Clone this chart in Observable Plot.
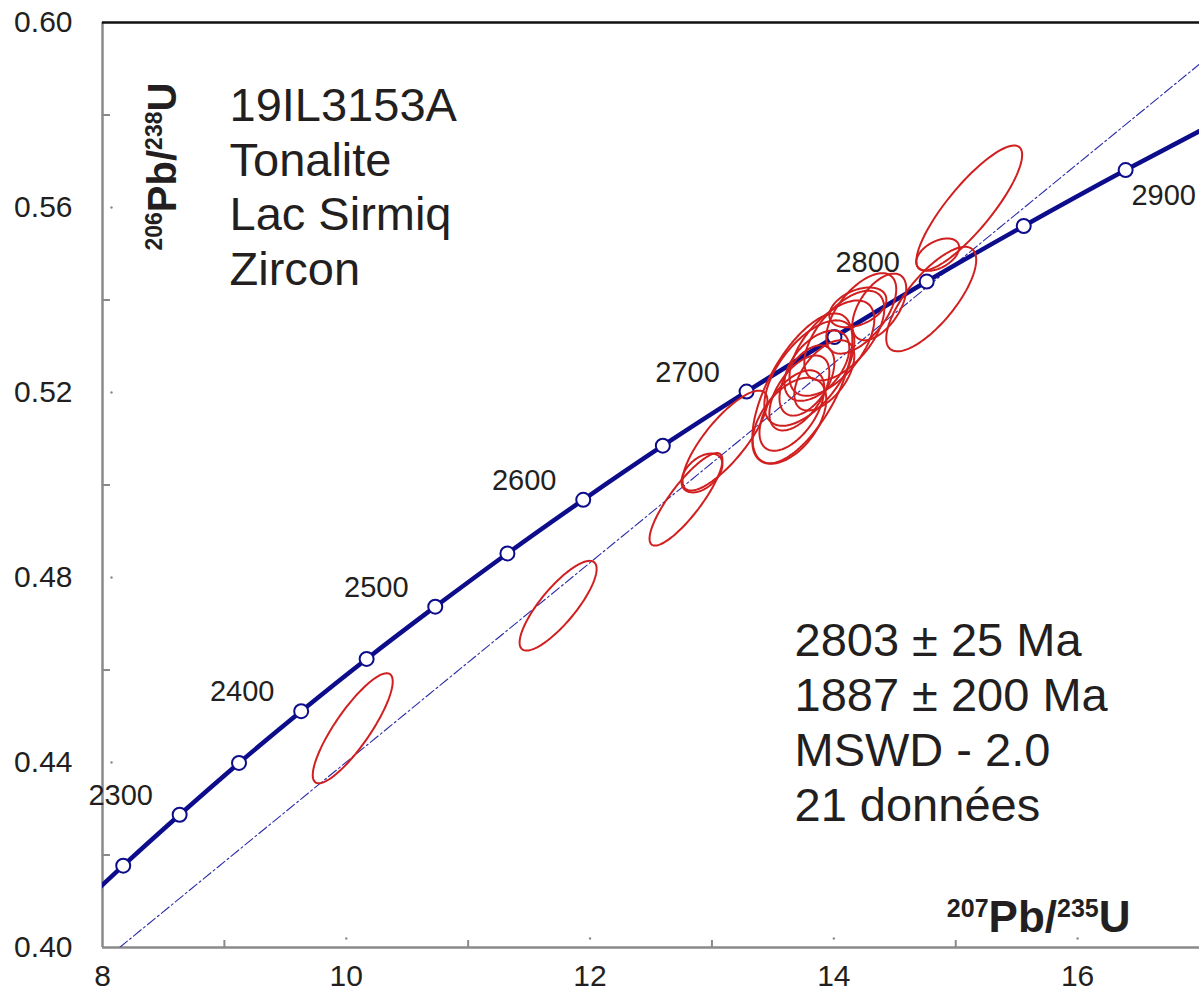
<!DOCTYPE html>
<html><head><meta charset="utf-8">
<script src="https://cdn.jsdelivr.net/npm/d3@7"></script>
<script src="https://cdn.jsdelivr.net/npm/@observablehq/plot@0.6"></script>
<style>html,body{margin:0;padding:0;background:#fff}</style>
</head><body><div id="chart"></div>
<script>
// Concordia markers (age in Ma, 207Pb/235U, 206Pb/238U)
const concordiaAge = [2200, 2250, 2300, 2350, 2400, 2450, 2500, 2550, 2600, 2650, 2700, 2750, 2800, 2850, 2900, 2950];
const concordiaX = [7.729, 8.170, 8.633, 9.120, 9.630, 10.167, 10.730, 11.322, 11.944, 12.597, 13.284, 14.005, 14.762, 15.558, 16.394, 17.272];
const concordiaY = [0.4068, 0.4177, 0.4287, 0.4399, 0.4511, 0.4624, 0.4737, 0.4852, 0.4968, 0.5085, 0.5202, 0.5320, 0.5440, 0.5560, 0.5681, 0.5803];
const labeledAges = [2300, 2400, 2500, 2600, 2700, 2800];
const rightLabeledAges = [2900];

// Discordia line (read where it meets the frame)
const discordiaX = [8.14, 17.0];
const discordiaY = [0.400, 0.591];

// Error ellipses: centre, half-extent in x and y, correlation
const ellipseCX  = [10.053, 11.738, 12.787, 12.918, 13.107, 13.742, 13.635, 13.799, 13.779, 13.984, 13.717, 13.861, 13.922, 14.086, 13.656, 14.225, 14.197, 14.799, 14.852, 15.111, 14.373];
const ellipseCY  = [0.4474, 0.4739, 0.4969, 0.5026, 0.5096, 0.5209, 0.5139, 0.5242, 0.5226, 0.5296, 0.5199, 0.5258, 0.5237, 0.5323, 0.5161, 0.5371, 0.5384, 0.5402, 0.5498, 0.5599, 0.5385];
const ellipseAX  = [0.328, 0.316, 0.299, 0.168, 0.348, 0.410, 0.303, 0.369, 0.225, 0.348, 0.246, 0.266, 0.246, 0.328, 0.266, 0.287, 0.234, 0.369, 0.176, 0.434, 0.221];
const ellipseAY  = [0.0119, 0.0097, 0.0100, 0.0042, 0.0108, 0.0162, 0.0093, 0.0114, 0.0076, 0.0103, 0.0081, 0.0076, 0.0076, 0.0097, 0.0087, 0.0087, 0.0043, 0.0113, 0.0035, 0.0135, 0.0072];
const ellipseRho = [0.85, 0.82, 0.85, 0.45, 0.80, 0.65, 0.50, 0.60, 0.50, 0.60, 0.55, 0.50, 0.55, 0.60, 0.55, 0.60, 0.40, 0.75, 0.45, 0.85, 0.55];

// Axes
const xTickValues = [8, 10, 12, 14, 16];
const xMinorTicks = [9, 11, 13, 15];
const xDotTicks = [10, 12, 14, 16];
const yTickValues = [0.40, 0.44, 0.48, 0.52, 0.56, 0.60];
const yMinorTicks = [0.42, 0.46, 0.50, 0.54, 0.58];
const yDotTicks = [0.44, 0.48, 0.52, 0.56];

// Texts
const sampleLines = ["19IL3153A", "Tonalite", "Lac Sirmiq", "Zircon"];
const resultLines = ["2803 ± 25 Ma", "1887 ± 200 Ma", "MSWD - 2.0", "21 données"];
const xTitleParts = ["207", "Pb/", "235", "U"];
const yTitleParts = ["206", "Pb/", "238", "U"];

const W = 1199, H = 1002, ML = 102, MR = 0, MT = 22, MB = 55;
const frameW = W - ML - MR, frameH = H - MT - MB;
const navy = "#0d0d8c", red = "#d11f1f", ink = "#231f20", axisGray = "#8a8a8a";

const concordia = concordiaAge.map((a, i) => ({age: a, x: concordiaX[i], y: concordiaY[i]}));
const discordia = discordiaX.map((x, i) => ({x, y: discordiaY[i]}));
const ellipsePoints = [];
ellipseCX.forEach((cx, i) => {
  const ax = ellipseAX[i], ay = ellipseAY[i], r = ellipseRho[i], s = Math.sqrt(1 - r * r);
  const n = 120;
  for (let k = 0; k < n; k++) {
    const t = 2 * Math.PI * k / n;
    ellipsePoints.push({id: i, x: cx + ax * Math.cos(t), y: ellipseCY[i] + ay * (r * Math.cos(t) + s * Math.sin(t))});
  }
});
const shownMarkers = concordia.filter(d => d.x >= 8 && d.x <= 17);

const chart = Plot.plot({
  width: W, height: H,
  marginLeft: ML, marginRight: MR, marginTop: MT, marginBottom: MB,
  x: {domain: [8, 17], axis: null},
  y: {domain: [0.40, 0.60], axis: null},
  style: {background: "#fff", fontFamily: "'Liberation Sans', Arial, sans-serif", color: ink, overflow: "visible"},
  marks: [
    // frame
    Plot.ruleX([8], {stroke: axisGray, strokeWidth: 2.5}),
    Plot.ruleY([0.40], {stroke: axisGray, strokeWidth: 2.5}),
    Plot.ruleY([0.60], {stroke: "#111", strokeWidth: 2.5}),
    Plot.ruleX(xMinorTicks, {x: d => d, stroke: axisGray, strokeWidth: 2, insetTop: frameH - 7}),
    Plot.ruleY(yMinorTicks, {y: d => d, stroke: axisGray, strokeWidth: 2, insetRight: frameW - 8}),
    Plot.dot(xDotTicks, {x: d => d, frameAnchor: "bottom", dy: -9, r: 1.2, fill: axisGray, stroke: null}),
    Plot.dot(yDotTicks, {y: d => d, frameAnchor: "left", dx: 9, r: 1.2, fill: axisGray, stroke: null}),
    Plot.text(xTickValues, {x: d => d, frameAnchor: "bottom", dy: 38, text: d => String(d), fontSize: 30, fill: ink}),
    Plot.text(yTickValues, {y: d => d, frameAnchor: "left", dx: -30, textAnchor: "end", text: d => d.toFixed(2), fontSize: 30, fill: ink}),
    // discordia
    Plot.line(discordia, {x: "x", y: "y", stroke: "#2a2aa8", strokeWidth: 1.1, strokeDasharray: "10,3,2,3", clip: true}),
    // concordia
    Plot.line(concordia, {x: "x", y: "y", curve: "natural", stroke: navy, strokeWidth: 4.5, clip: true}),
    Plot.dot(shownMarkers, {x: "x", y: "y", r: 7, fill: "#fff", stroke: navy, strokeWidth: 2}),
    Plot.text(concordia.filter(d => labeledAges.includes(d.age)), {x: "x", y: "y", text: d => String(d.age), dx: -59, dy: -19, fontSize: 29, fill: ink}),
    Plot.text(concordia.filter(d => rightLabeledAges.includes(d.age)), {x: "x", y: "y", text: d => String(d.age), dx: 38, dy: 26, fontSize: 29, fill: ink}),
    // ellipses
    Plot.line(ellipsePoints, {x: "x", y: "y", z: "id", curve: "linear-closed", stroke: red, strokeWidth: 2}),
    // annotations
    Plot.text([sampleLines.join("\n")], {frameAnchor: "top-left", dx: 127, dy: 60, textAnchor: "start", lineAnchor: "top", lineHeight: 1.16, fontSize: 47, fill: ink}),
    Plot.text([resultLines.join("\n")], {frameAnchor: "top-left", dx: 692, dy: 594, textAnchor: "start", lineAnchor: "top", lineHeight: 1.17, fontSize: 47, fill: ink}),
    Plot.text([xTitleParts.join("")], {frameAnchor: "bottom-right", dx: -69, dy: -16, textAnchor: "end", lineAnchor: "bottom", fontSize: 44, fontWeight: "bold", fill: ink}),
    Plot.text([yTitleParts.join("")], {frameAnchor: "top-left", dx: 73, dy: 228, textAnchor: "start", lineAnchor: "bottom", rotate: -90, fontSize: 40, fontWeight: "bold", fill: ink})
  ]
});

function superscriptTitle(svg, parts, bigSize, smallSize, raise) {
  d3.select(svg).selectAll("text").filter(function () { return this.textContent === parts.join(""); }).each(function () {
    const t = d3.select(this);
    t.text(null);
    t.attr("y", null);
    parts.forEach((p, i) => {
      const sup = i % 2 === 0;
      t.append("tspan").attr("font-size", sup ? smallSize : bigSize).attr("dy", sup ? -raise : raise).text(p);
    });
  });
}
superscriptTitle(chart, xTitleParts, 44, 25, 15);
superscriptTitle(chart, yTitleParts, 40, 23, 14);

document.getElementById("chart").appendChild(chart);
</script>
</body></html>
